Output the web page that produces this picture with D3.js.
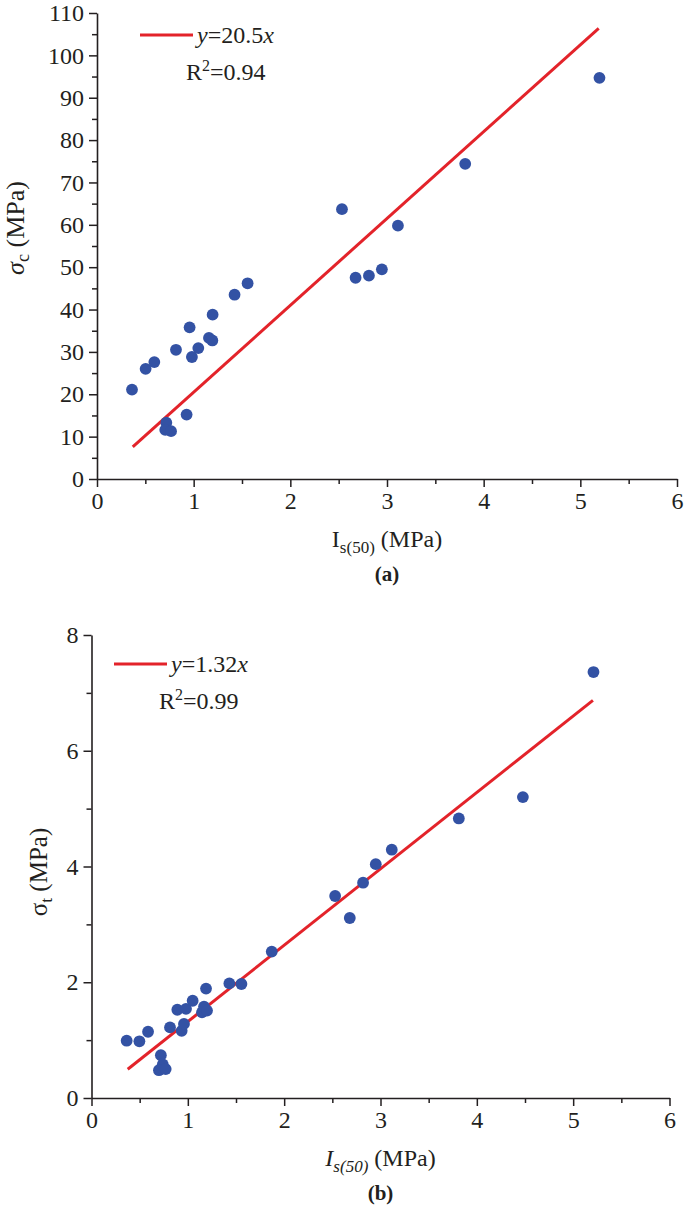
<!DOCTYPE html>
<html>
<head>
<meta charset="utf-8">
<script src="https://cdn.jsdelivr.net/npm/d3@7"></script>
<style>
  html, body { margin: 0; padding: 0; background: #fff; }
  svg { display: block; }
  text { font-family: "Liberation Serif", "Times New Roman", Times, serif; fill: #231f20; }
</style>
</head>
<body>
<svg id="chart" width="685" height="1210"></svg>
<script>
// ---- Data: panel (a) UCS vs Is(50) ----
const isA = [0.362, 0.503, 0.593, 0.817, 0.958, 0.982, 1.048, 1.158, 1.193, 1.196, 1.423, 1.558,
             0.927, 0.717, 0.706, 0.766, 2.534, 2.675, 2.813, 2.947, 3.113, 3.809, 5.198];
const ucsA = [21.1, 26.0, 27.6, 30.5, 35.8, 28.8, 30.9, 33.3, 32.7, 38.8, 43.5, 46.2,
              15.2, 13.3, 11.6, 11.3, 63.7, 47.5, 48.0, 49.5, 59.8, 74.4, 94.7];
const slopeA = 20.5;
const fitRangeA = [0.37, 5.19];
const xTicksA = [0, 1, 2, 3, 4, 5, 6];
const yTicksA = [0, 10, 20, 30, 40, 50, 60, 70, 80, 90, 100, 110];

// ---- Data: panel (b) tensile strength vs Is(50) ----
const isB = [0.365, 0.497, 0.587, 0.72, 0.74, 0.70, 0.77, 0.815, 0.891, 0.981, 0.936, 0.96,
             1.05, 1.147, 1.168, 1.199, 1.189, 1.431, 1.556, 1.871, 2.529, 2.681, 2.819,
             2.951, 3.117, 3.813, 4.478, 5.211];
const tsB = [0.99, 0.98, 1.145, 0.74, 0.58, 0.48, 0.50, 1.22, 1.525, 1.54, 1.16, 1.28,
             1.68, 1.48, 1.58, 1.51, 1.89, 1.98, 1.97, 2.53, 3.49, 3.11, 3.72,
             4.04, 4.29, 4.83, 5.20, 7.36];
const slopeB = 1.32;
const fitRangeB = [0.376, 5.205];
const xTicksB = [0, 1, 2, 3, 4, 5, 6];
const yTicksB = [0, 2, 4, 6, 8];

const DOT = "#3352a4", RED = "#e3232a", AX = "#231f20";
const FONT = '"Liberation Serif", "Times New Roman", Times, serif';
const svg = d3.select("#chart");

function panel(cfg) {
  const g = svg.append("g");
  const x = d3.scaleLinear().domain([0, 6]).range(cfg.xr);
  const y = d3.scaleLinear().domain(cfg.yd).range(cfg.yr);
  const y0 = cfg.yr[0], x0 = cfg.xr[0];
  const fmt = d3.format("d");

  // minor ticks
  const minorX = d3.range(0.5, 6, 1);
  const minorY = d3.range(cfg.yMinorStep / 2, cfg.yd[1], cfg.yMinorStep);
  g.append("g").attr("transform", `translate(0,${y0})`)
    .call(d3.axisBottom(x).tickValues(minorX).tickFormat("").tickSize(5).tickSizeOuter(0))
    .call(s => s.select(".domain").remove())
    .call(s => s.selectAll("line").attr("stroke", AX).attr("stroke-width", 1.5));
  g.append("g").attr("transform", `translate(${x0},0)`)
    .call(d3.axisLeft(y).tickValues(minorY).tickFormat("").tickSize(5).tickSizeOuter(0))
    .call(s => s.select(".domain").remove())
    .call(s => s.selectAll("line").attr("stroke", AX).attr("stroke-width", 1.5));

  // major axes
  g.append("g").attr("transform", `translate(0,${y0})`)
    .call(d3.axisBottom(x).tickValues(cfg.xTicks).tickFormat(fmt).tickSize(8).tickPadding(5).tickSizeOuter(0))
    .call(s => s.attr("font-family", FONT).attr("font-size", 24))
    .call(s => s.select(".domain").attr("stroke", AX).attr("stroke-width", 1.6))
    .call(s => s.selectAll("line").attr("stroke", AX).attr("stroke-width", 1.5))
    .call(s => s.selectAll("text").attr("fill", AX));
  g.append("g").attr("transform", `translate(${x0},0)`)
    .call(d3.axisLeft(y).tickValues(cfg.yTicks).tickFormat(fmt).tickSize(8).tickPadding(5).tickSizeOuter(0))
    .call(s => s.attr("font-family", FONT).attr("font-size", 24))
    .call(s => s.select(".domain").attr("stroke", AX).attr("stroke-width", 1.6))
    .call(s => s.selectAll("line").attr("stroke", AX).attr("stroke-width", 1.5))
    .call(s => s.selectAll("text").attr("fill", AX));

  // fit line
  const line = d3.line().x(d => x(d)).y(d => y(cfg.slope * d));
  g.append("path").datum(cfg.fit).attr("d", line)
    .attr("fill", "none").attr("stroke", RED).attr("stroke-width", 3);

  // points
  g.selectAll("circle.pt").data(cfg.xs).join("circle")
    .attr("class", "pt")
    .attr("cx", d => x(d)).attr("cy", (d, i) => y(cfg.ys[i]))
    .attr("r", 5.9).attr("fill", DOT);

  // legend
  g.append("line").attr("x1", cfg.leg[0]).attr("x2", cfg.leg[0] + 53)
    .attr("y1", cfg.leg[1]).attr("y2", cfg.leg[1]).attr("stroke", RED).attr("stroke-width", 3);
  const t1 = g.append("text").attr("x", cfg.leg[0] + 57).attr("y", cfg.leg[1] + 8).attr("font-size", 24);
  t1.append("tspan").attr("font-style", "italic").text("y");
  t1.append("tspan").text("=" + cfg.slope);
  t1.append("tspan").attr("font-style", "italic").text("x");
  const t2 = g.append("text").attr("x", cfg.r2x).attr("y", cfg.leg[1] + 45).attr("font-size", 24);
  t2.append("tspan").text("R");
  t2.append("tspan").attr("font-size", 16).attr("dy", -9).text("2");
  t2.append("tspan").attr("dy", 9).text("=" + cfg.r2);

  // x title
  const xt = g.append("text").attr("x", (cfg.xr[0] + cfg.xr[1]) / 2).attr("y", y0 + 68)
    .attr("text-anchor", "middle").attr("font-size", 24);
  xt.append("tspan").attr("font-style", cfg.italicI ? "italic" : "normal").text("I");
  xt.append("tspan").attr("font-style", cfg.italicI ? "italic" : "normal").attr("font-size", 17).attr("dy", 6).text("s(50)");
  xt.append("tspan").attr("dy", -6).text(" (MPa)");

  // panel label
  g.append("text").attr("x", (cfg.xr[0] + cfg.xr[1]) / 2).attr("y", y0 + 102)
    .attr("text-anchor", "middle").attr("font-size", 21).attr("font-weight", "bold").text(cfg.panel);

  // y title
  const yt = g.append("text").attr("transform", `translate(${cfg.ylab[0]},${cfg.ylab[1]}) rotate(-90)`)
    .attr("text-anchor", "middle").attr("font-size", cfg.ylabSize);
  yt.append("tspan").attr("font-style", cfg.italicSigma ? "italic" : "normal").text("σ");
  yt.append("tspan").attr("font-size", cfg.ylabSize * 0.7).attr("dy", 5).text(cfg.sub);
  yt.append("tspan").attr("dy", -5).text(" (MPa)");
}

panel({
  xr: [97, 677], yd: [0, 110], yr: [479, 13], yTicks: yTicksA, xTicks: xTicksA, yMinorStep: 10,
  xs: isA, ys: ucsA, slope: slopeA, fit: fitRangeA, leg: [140, 35], r2x: 186, r2: "0.94",
  panel: "(a)", italicI: false, italicSigma: true, sub: "c", ylab: [24, 228], ylabSize: 26
});
panel({
  xr: [91.5, 669.5], yd: [0, 8], yr: [1098, 635], yTicks: yTicksB, xTicks: xTicksB, yMinorStep: 2,
  xs: isB, ys: tsB, slope: slopeB, fit: fitRangeB, leg: [114, 664], r2x: 159, r2: "0.99",
  panel: "(b)", italicI: true, italicSigma: false, sub: "t", ylab: [47, 872], ylabSize: 25
});
</script>
</body>
</html>
